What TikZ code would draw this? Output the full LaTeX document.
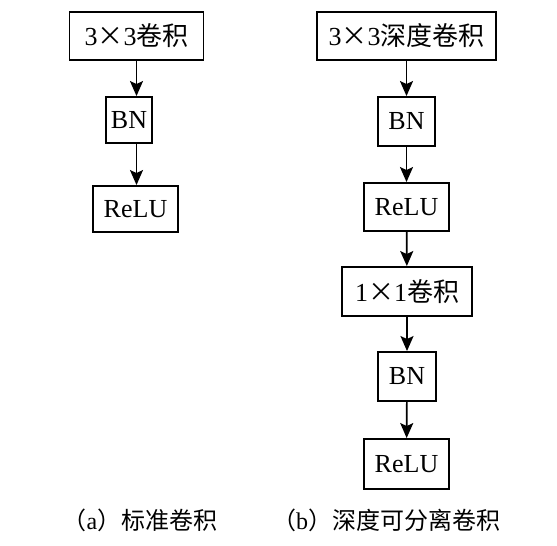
\documentclass[tikz,border=0pt]{standalone}
\usepackage{fontspec}
\setmainfont{Liberation Serif}
\newfontfamily\cjk{Noto Sans CJK SC}
\newcommand\zh[1]{{\cjk #1}}
\usetikzlibrary{arrows.meta,positioning}

\begin{document}
\begin{tikzpicture}[
      x=1pt,y=-1pt,
      font=\fontsize{26}{30}\selectfont,
      box/.style={draw=black,line width=1.9pt,inner sep=0pt,align=center},
      arr/.style={-{Stealth[length=15pt,width=13pt,inset=3pt]},line width=1.7pt,black},
      captext/.style={font=\fontsize{24}{28}\selectfont}
    ]
      \useasboundingbox (0,0) rectangle (557,546);
      % (a) standard convolution
      \node[box,minimum width=134pt,minimum height=48pt] (conva) at (136.5,36) {3\zh{×}3\zh{卷积}};
      \node[box,minimum width=46pt,minimum height=46pt] (bna) at (129,120) {BN};
      \node[box,minimum width=85pt,minimum height=46pt] (relua) at (135.5,209) {ReLU};
      \draw[arr] (conva) -- (conva |- bna.north);
      \draw[arr] (bna.south -| conva) -- (relua.north -| conva);
      % (b) depthwise separable convolution
      \node[box,minimum width=179pt,minimum height=48pt] (dwconv) at (406.5,36) {3\zh{×}3\zh{深度卷积}};
      \node[box,minimum width=57pt,minimum height=49pt] (bnb1) at (406.5,121.5) {BN};
      \node[box,minimum width=85pt,minimum height=48pt] (relub1) at (406.5,207) {ReLU};
      \node[box,minimum width=130pt,minimum height=49pt] (pwconv) at (407,291.5) {1\zh{×}1\zh{卷积}};
      \node[box,minimum width=58pt,minimum height=49pt] (bnb2) at (407,376.5) {BN};
      \node[box,minimum width=85pt,minimum height=50pt] (relub2) at (406.5,464) {ReLU};
      \draw[arr] (dwconv) -- (bnb1);
      \draw[arr] (bnb1) -- (relub1);
      \draw[arr] (relub1) -- (pwconv);
      \draw[arr] (pwconv) -- (bnb2);
      \draw[arr] (bnb2) -- (relub2);
      % captions
      \node[captext] (capa) at (140,520) {\zh{（}a\zh{）标准卷积}};
      \node[captext] (capb) at (386,520) {\zh{（}b\zh{）深度可分离卷积}};
    \end{tikzpicture}
\end{document}
